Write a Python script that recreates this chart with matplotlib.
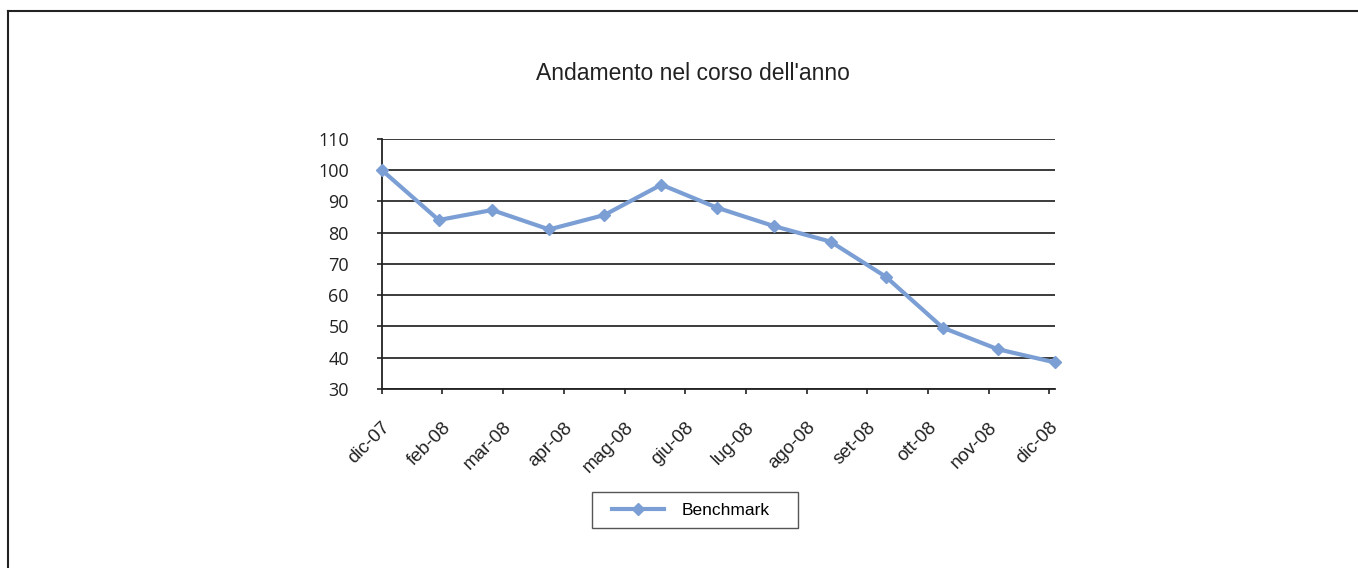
import datetime as dt
import matplotlib
matplotlib.use('Agg')
import matplotlib.pyplot as plt
import matplotlib.transforms as mtransforms
from matplotlib.lines import Line2D
from matplotlib.patches import Rectangle

# month-end dates, dic-07 .. dic-08
dates = [dt.date(2007, 12, 31), dt.date(2008, 1, 31), dt.date(2008, 2, 29),
         dt.date(2008, 3, 31), dt.date(2008, 4, 30), dt.date(2008, 5, 31),
         dt.date(2008, 6, 30), dt.date(2008, 7, 31), dt.date(2008, 8, 31),
         dt.date(2008, 9, 30), dt.date(2008, 10, 31), dt.date(2008, 11, 30),
         dt.date(2008, 12, 31)]
benchmark = [100, 84.0, 87.2, 81.0, 85.6, 95.3, 88.0, 82.1, 77.1, 65.9, 49.6, 42.7, 38.5]

# Excel picked a 33 day major unit for the date axis
tick_step_days = 33
tick_labels = ['dic-07', 'feb-08', 'mar-08', 'apr-08', 'mag-08', 'giu-08',
               'lug-08', 'ago-08', 'set-08', 'ott-08', 'nov-08', 'dic-08']
yticks = [30, 40, 50, 60, 70, 80, 90, 100, 110]

plt.rcParams['font.family'] = ['Liberation Sans', 'DejaVu Sans']

W, H = 1358, 568
fig = plt.figure(figsize=(W / 100, H / 100), dpi=100)
ax = fig.add_axes([381.7 / W, 1 - 389 / H, (1055 - 381.7) / W, (389 - 138.7) / H])

col = '#7b9fd4'
ax.plot(dates, benchmark, color=col, lw=3, marker='D', ms=6.5,
        mec=col, mfc=col, label='Benchmark', zorder=5, clip_on=False)

ticks = [dates[0] + dt.timedelta(days=tick_step_days * i) for i in range(len(tick_labels))]
ax.set_xticks(ticks)
ax.set_xticklabels(tick_labels, rotation=45, ha='right', va='top',
                   rotation_mode='anchor', fontsize=13.5, color='#222222')
ax.set_xlim(dates[0], dates[-1])
shift = mtransforms.ScaledTranslation(-4 / 100, 0, fig.dpi_scale_trans)
for lab in ax.get_xticklabels():
    lab.set_transform(lab.get_transform() + shift)

ax.set_ylim(30, 110)
ax.set_yticks(yticks)
ax.set_yticklabels([str(v) for v in yticks], fontsize=13, color='#222222',
                   family=['Open Sans', 'DejaVu Sans'])
ax.yaxis.grid(True, color='#1a1a1a', lw=1.2)
ax.set_axisbelow(True)

for s in ['top', 'right']:
    ax.spines[s].set_visible(False)
for s in ['left', 'bottom']:
    ax.spines[s].set_color('#222222')
    ax.spines[s].set_linewidth(1.3)
ax.tick_params(axis='both', direction='out', length=3.6, width=1.2, color='#222222')
ax.tick_params(axis='x', pad=18)
ax.tick_params(axis='y', pad=20)

fig.text(693 / W, 1 - 73 / H, "Andamento nel corso dell'anno", ha='center', va='center',
         fontsize=16.5, color='#222222')

# legend box drawn separately, the legend itself has no frame
fig.add_artist(Rectangle((591.7 / W, 1 - 528.3 / H), 206 / W, 36 / H,
                         transform=fig.transFigure, fill=False, ec='#555555', lw=1.0))
fig.legend(loc='center left', bbox_to_anchor=(612 / W, 1 - 510.5 / H),
           fontsize=12.5, frameon=False, handlelength=3.0,
           handletextpad=1.0, borderpad=0, borderaxespad=0)

# outer chart frame (only top and left show in the crop)
fig.add_artist(Line2D([8 / W, 1], [1 - 11 / H, 1 - 11 / H], color='#222222', lw=1.5))
fig.add_artist(Line2D([8 / W, 8 / W], [0, 1 - 11 / H], color='#222222', lw=1.5))

fig.savefig('out.png', dpi=100)
